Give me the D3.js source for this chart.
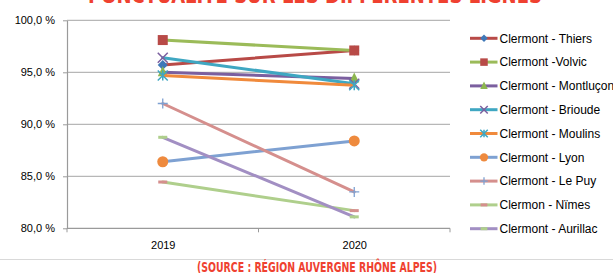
<!DOCTYPE html>
<html>
<head>
<meta charset="utf-8">
<script src="https://cdn.jsdelivr.net/npm/d3@7"></script>
<style>
  body { margin: 0; background: #fff; }
  svg { display: block; }
  text { font-family: "Liberation Sans", Arial, sans-serif; }
</style>
</head>
<body>
<svg width="613" height="273"></svg>
<script>
// data
const years = ["2019", "2020"];
const lines = ["Clermont - Thiers", "Clermont -Volvic", "Clermont - Montluçon", "Clermont - Brioude",
  "Clermont - Moulins", "Clermont - Lyon", "Clermont - Le Puy", "Clermon - Nïmes", "Clermont - Aurillac"];
const val2019 = [95.7, 98.1, 95.0, 96.4, 94.7, 86.4, 92.0, 84.45, 88.75];
const val2020 = [97.1, 97.1, 94.4, 93.9, 93.75, 88.4, 83.5, 81.7, 81.1];
const yTicks = [80, 85, 90, 95, 100];

const lineCol = ["#B84A47", "#9BBB59", "#7B5F9F", "#3FA7C2", "#F08A3C", "#7EA1D2", "#D58F8D", "#AFCF8C", "#A28FC3"];
const markCol = ["#3F78B8", "#B84A47", "#8DB650", "#7B5F9F", "#3FA7C2", "#EE8A3E", "#7EA1D2", "#D58F8D", "#AFCF8C"];
const markType = ["diamond", "square", "triangle", "x", "asterisk", "circle", "plus", "dash", "dash"];

let svg = d3.select("svg");
let plotLeft = 67, plotRight = 450, plotTop = 20.3, plotBottom = 228.3;

let x = d3.scalePoint().domain(years).range([plotLeft, plotRight]).padding(0.5);
let y = d3.scaleLinear().domain([80, 100]).range([plotBottom, plotTop]);
let fmt = (v) => d3.format(".1f")(v).replace(".", ",") + " %";

// title (mostly cut off at the top)
svg.append("text")
  .attr("x", 88).attr("y", 3)
  .attr("textLength", 454).attr("lengthAdjust", "spacingAndGlyphs")
  .style("font-family", "'DejaVu Sans Condensed', sans-serif")
  .style("font-weight", "bold").style("font-size", "22px")
  .style("fill", "#EF4130")
  .text("PONCTUALITÉ SUR LES DIFFÉRENTES LIGNES");

// gridlines
svg.append("g").selectAll("line").data(yTicks.slice(1)).enter().append("line")
  .attr("x1", plotLeft).attr("x2", plotRight)
  .attr("y1", (d) => y(d)).attr("y2", (d) => y(d))
  .attr("stroke", "#B7B7B7").attr("stroke-width", 1.2);

// y axis
let yAxis = svg.append("g").attr("transform", `translate(${plotLeft},0)`)
  .call(d3.axisLeft(y).tickValues(yTicks).tickFormat(fmt).tickSizeInner(4).tickSizeOuter(0).tickPadding(8));
yAxis.select(".domain").attr("stroke", "#9A9A9A").attr("stroke-width", 1.2);
yAxis.selectAll(".tick line").attr("stroke", "#9A9A9A");
yAxis.selectAll("text").style("font-family", "'Liberation Sans', Arial, sans-serif")
  .style("font-size", "11px").style("fill", "#000");

// x axis
let xAxis = svg.append("g").attr("transform", `translate(0,${plotBottom})`)
  .call(d3.axisBottom(x).tickSize(0).tickPadding(13));
xAxis.select(".domain").attr("stroke", "#9A9A9A").attr("stroke-width", 1.2)
  .attr("d", `M${plotLeft},0H${plotRight}`);
xAxis.selectAll("text").style("font-family", "'Liberation Sans', Arial, sans-serif")
  .style("font-size", "11px").style("fill", "#000");
let step = x.step();
svg.append("g").selectAll("line").data([0, 1, 2]).enter().append("line")
  .attr("x1", (d) => plotLeft + d * step).attr("x2", (d) => plotLeft + d * step)
  .attr("y1", plotBottom).attr("y2", plotBottom + 4)
  .attr("stroke", "#9A9A9A");

// markers
function drawMarker(g, type, color, cx, cy, s) {
  s = s || 1;
  if (type === "square") {
    g.append("rect").attr("x", cx - 5 * s).attr("y", cy - 5 * s)
      .attr("width", 10 * s).attr("height", 10 * s).attr("fill", color);
  } else if (type === "diamond") {
    g.append("path").attr("d", `M${cx},${cy - 5 * s}L${cx + 5 * s},${cy}L${cx},${cy + 5 * s}L${cx - 5 * s},${cy}Z`)
      .attr("fill", color);
  } else if (type === "triangle") {
    g.append("path").attr("d", `M${cx},${cy - 6 * s}L${cx + 5 * s},${cy + 4 * s}L${cx - 5 * s},${cy + 4 * s}Z`)
      .attr("fill", color);
  } else if (type === "circle") {
    g.append("circle").attr("cx", cx).attr("cy", cy).attr("r", 5.5 * s).attr("fill", color);
  } else if (type === "x") {
    let r = 5 * s;
    g.append("path").attr("d", `M${cx - r},${cy - r}L${cx + r},${cy + r}M${cx - r},${cy + r}L${cx + r},${cy - r}`)
      .attr("stroke", color).attr("stroke-width", 1.5);
  } else if (type === "asterisk") {
    let r = 5 * s;
    g.append("path").attr("d", `M${cx - r},${cy - r}L${cx + r},${cy + r}M${cx - r},${cy + r}L${cx + r},${cy - r}M${cx},${cy - r}L${cx},${cy + r}`)
      .attr("stroke", color).attr("stroke-width", 1.5);
  } else if (type === "plus") {
    let r = 5 * s;
    g.append("path").attr("d", `M${cx - r},${cy}L${cx + r},${cy}M${cx},${cy - r}L${cx},${cy + r}`)
      .attr("stroke", color).attr("stroke-width", 1.3);
  } else if (type === "dash") {
    g.append("rect").attr("x", cx - 4.5 * s).attr("y", cy - 1.5)
      .attr("width", 9 * s).attr("height", 3).attr("fill", color);
  }
}

let series = lines.map((name, i) => ({ name: name, i: i, values: [val2019[i], val2020[i]] }));

let line = d3.line().x((d, j) => x(years[j])).y((d) => y(d));

let plot = svg.append("g");
series.forEach((s) => {
  let g = plot.append("g");
  g.append("path").datum(s.values).attr("d", line)
    .attr("fill", "none").attr("stroke", lineCol[s.i]).attr("stroke-width", 3)
    .attr("stroke-linecap", "round");
  s.values.forEach((v, j) => drawMarker(g, markType[s.i], markCol[s.i], x(years[j]), y(v)));
});

// legend
let legend = svg.append("g");
series.forEach((s) => {
  let ly = 38.3 + s.i * 23.8;
  let g = legend.append("g");
  g.append("line").attr("x1", 470).attr("x2", 497.5).attr("y1", ly).attr("y2", ly)
    .attr("stroke", lineCol[s.i]).attr("stroke-width", 3);
  drawMarker(g, markType[s.i], markCol[s.i], 484, ly, 0.75);
  g.append("text").attr("x", 499.5).attr("y", ly + 4.2)
    .style("font-size", "12px").style("fill", "#000")
    .text(s.name);
});

// frame bottom line
svg.append("line").attr("x1", 0).attr("x2", 613).attr("y1", 259.5).attr("y2", 259.5)
  .attr("stroke", "#D9D9D9");

// source
svg.append("text")
  .attr("x", 197).attr("y", 271.5)
  .attr("textLength", 240).attr("lengthAdjust", "spacingAndGlyphs")
  .style("font-family", "'DejaVu Sans Condensed', sans-serif")
  .style("font-weight", "bold").style("font-size", "14px")
  .style("fill", "#EF4130")
  .text("(SOURCE : RÉGION AUVERGNE RHÔNE ALPES)");
</script>
</body>
</html>
